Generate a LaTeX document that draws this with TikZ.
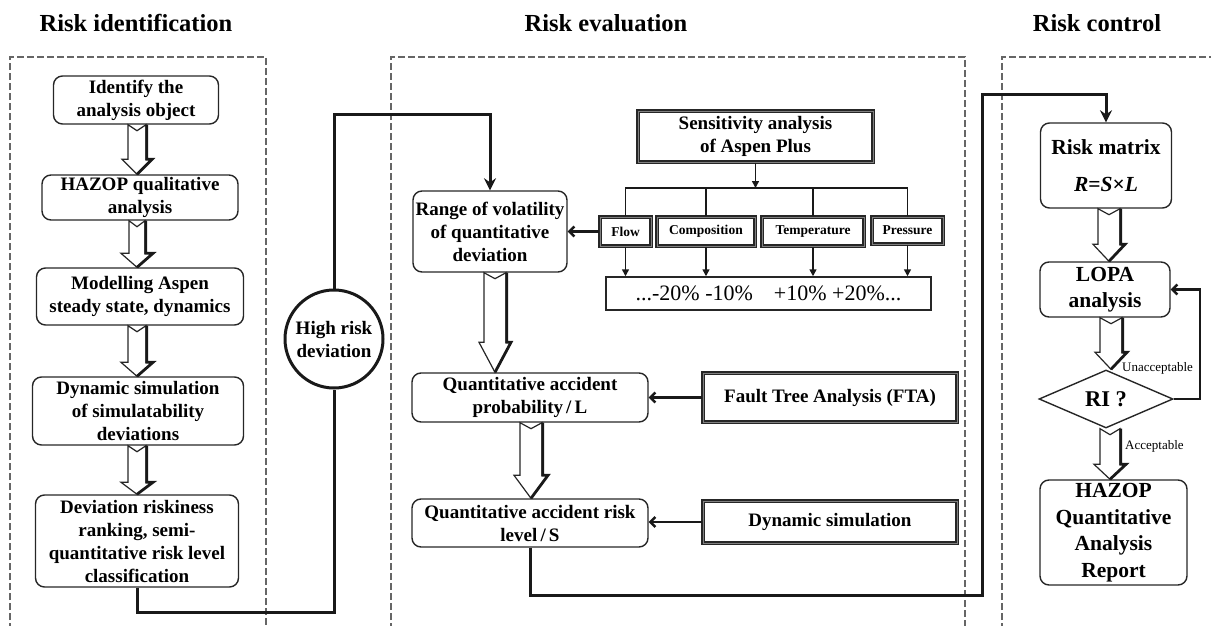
\documentclass[tikz,border=0pt]{standalone}
\usepackage{fontspec}
\setmainfont{Liberation Serif}
\usetikzlibrary{arrows.meta,shapes.geometric,calc}
\newcommand\blockarr[5]{%
  \draw[blkline] let \p1=(#1), \p2=(#2) in
    (\x1-#3,\y1) -- (\x1,\y1-6pt) -- (\x1+#3,\y1) -- (\x1+#3,\y2+#5) -- (\x1+#4,\y2+#5)
    -- (\x1,\y2) -- (\x1-#4,\y2+#5) -- (\x1-#3,\y2+#5) -- cycle;
  \draw[blkshade] let \p1=(#1), \p2=(#2) in
    (\x1+#3+0.8pt,\y1) -- (\x1+#3+0.8pt,\y2+#5) -- (\x1+#4,\y2+#5) -- (\x1,\y2);
}
\begin{document}
\begin{tikzpicture}[x=1pt,y=-1pt,
  panel/.style={draw=black!60, line width=2pt, dash pattern=on 7pt off 3pt},
  title/.style={font=\fontsize{24.5}{28}\selectfont\bfseries, anchor=base, inner sep=0pt},
  rbox/.style={draw=black!85, line width=1.4pt, rounded corners=9pt, align=center, inner sep=0pt, font=\fontsize{19}{23}\selectfont\bfseries},
  dbox/.style={draw=black!85, line width=1.1pt, double=black!50, double distance=0.9pt, align=center, inner sep=0pt, font=\fontsize{19}{23}\selectfont\bfseries},
  pbox/.style={dbox, font=\fontsize{13.5}{16}\selectfont\bfseries},
  rcbox/.style={rbox, font=\fontsize{21.5}{26.5}\selectfont\bfseries},
  sz/.style 2 args={minimum width=#1pt, minimum height=#2pt},
  heavy/.style={draw=black!90, line width=3pt},
  heavyarrow/.style={heavy, -{Stealth[length=12pt,width=12pt,inset=4pt]}},
  midarrow/.style={draw=black!90, line width=2.4pt, -{Straight Barb[length=5pt,width=10pt]}},
  tree/.style={draw=black!90, line width=1.5pt},
  treearrow/.style={tree, -{Triangle[length=7pt,width=7pt]}},
  blkline/.style={draw=black!85, line width=1.2pt, line join=miter},
  blkshade/.style={draw=black!90, line width=2.8pt, line join=miter},
  lbl/.style={anchor=west, inner sep=0pt, font=\fontsize{13}{15}\selectfont},
]
\useasboundingbox (0,0) rectangle (1211,626);

% titles
\node[title] (t-id) at (136,32) {Risk identification};
\node[title] (t-ev) at (606,32) {Risk evaluation};
\node[title] (t-co) at (1097,32) {Risk control};

% panels
\draw[panel] (10,630) -- (10,57) -- (266,57) -- (266,630);
\draw[panel] (391,630) -- (391,57) -- (965,57) -- (965,630);
\draw[panel] (1002,630) -- (1002,57) -- (1215,57);

% left column
\node[rbox, sz={165}{48}] (id1) at (136,100) {Identify the\\analysis object};
\node[rbox, sz={196}{45}] (hz) at (140,197.5) {HAZOP qualitative\\analysis};
\node[rbox, sz={207}{57}] (mod) at (140,296.5) {Modelling Aspen\\steady state, dynamics};
\node[rbox, sz={211}{68}] (dyn) at (138,411) {Dynamic simulation\\of simulatability\\deviations};
\node[rbox, sz={203}{92}] (rank) at (137,541) {Deviation riskiness\\ranking, semi-\\quantitative risk level\\classification};

\node[circle, draw=black!90, line width=3pt, minimum size=98pt, inner sep=0pt, align=center,
      font=\fontsize{19}{23}\selectfont\bfseries] (hr) at (334,339) {High risk\\deviation};

% middle column
\node[rbox, sz={154}{81}] (rng) at (490,231.5) {Range of volatility\\of quantitative\\deviation};
\node[dbox, sz={235}{51}] (sens) at (755.5,136.5) {Sensitivity analysis\\of Aspen Plus};
\node[pbox, sz={51}{29}] (flow) at (625.5,231.5) {Flow};
\node[pbox, sz={98}{29}] (comp) at (706,231.5) {Composition};
\node[pbox, sz={102}{29}] (temp) at (813,231.5) {Temperature};
\node[pbox, sz={71}{27}] (pres) at (907.5,230.5) {Pressure};
\node[draw=black!85, line width=1.5pt, sz={325}{33}, inner sep=0pt,
      font=\fontsize{22}{26}\selectfont] (pct) at (768.5,293.5) {...-20\% -10\%\hspace{21pt}+10\% +20\%...};
\node[rbox, sz={236}{49}] (qap) at (530,397.5) {Quantitative accident\\probability\,/\,L};
\node[dbox, sz={254}{49}] (fta) at (830,397.5) {Fault Tree Analysis (FTA)};
\node[rbox, sz={236}{48}] (qar) at (530,523) {Quantitative accident risk\\level\,/\,S};
\node[dbox, sz={254}{42}] (ds) at (830,522) {Dynamic simulation};

% right column
\node[rcbox, sz={131}{85}] (rm) at (1106,165.5) {Risk matrix\\[11pt]\textit{R}=\textit{S}×\textit{L}};
\node[rcbox, sz={130}{55}] (lopa) at (1105,289.5) {LOPA\\analysis};
\node[diamond, aspect=2.3, draw=black!85, line width=1.4pt, sz={134}{58}, inner sep=0pt,
      font=\fontsize{22.5}{26}\selectfont\bfseries] (ri) at (1106,399) {RI ?};
\node[rcbox, sz={147}{105}] (rep) at (1113.5,532.5) {HAZOP\\Quantitative\\Analysis\\Report};
\node[lbl] (unacc) at (1122,368) {Unacceptable};
\node[lbl] (acc) at (1125,446) {Acceptable};

% heavy connectors
\coordinate (b1) at (0,612);
\draw[heavy] (rank.south) -- (rank.south |- b1) -- (hr.south |- b1) -- (hr.south);
\coordinate (t1) at (0,114);
\draw[heavyarrow] (hr.north) -- (hr.north |- t1) -- (rng.north |- t1) -- (rng.north);
\coordinate (c2) at (982,595);
\coordinate (c3) at (982,95);
\draw[heavyarrow] (qar.south) -- (qar.south |- c2) -- (c2) -- (c3) -- (rm.north |- c3) -- (rm.north);

% sensitivity tree
\coordinate (bus) at (0,188);
\draw[treearrow] (sens.south) -- (sens.south |- bus);
\draw[tree] (flow.north) -- (flow.north |- bus) -- (pres.north |- bus) -- (pres.north);
\draw[tree] (comp.north) -- (comp.north |- bus);
\draw[tree] (temp.north) -- (temp.north |- bus);
\foreach \n in {flow,comp,temp,pres} \draw[treearrow] (\n.south) -- (\n.south |- pct.north);

% side arrows
\draw[midarrow] (flow.west) -- (rng.east);
\draw[midarrow] (fta.west) -- (qap.east);
\draw[midarrow] (ds.west) -- (ds.west -| qar.east);
\coordinate (l1) at (1200,0);
\draw[midarrow] (ri.east) -- (ri.east -| l1) -- (lopa.east -| l1) -- (lopa.east);

% hollow block arrows
\blockarr{[xshift=1pt]id1.south}{hz.north}{9pt}{15pt}{15pt}
\blockarr{[xshift=-3pt]hz.south}{mod.north}{8pt}{16pt}{14pt}
\blockarr{[xshift=-3pt]mod.south}{dyn.north}{9pt}{16pt}{14pt}
\blockarr{[xshift=-1pt]dyn.south}{rank.north}{9pt}{16pt}{12pt}
\blockarr{[xshift=5pt]rng.south}{qap.north}{11pt}{16pt}{30pt}
\blockarr{[xshift=1pt]qap.south}{qar.north}{11pt}{17pt}{23pt}
\blockarr{[xshift=3pt]rm.south}{lopa.north}{11pt}{16pt}{17pt}
\blockarr{[xshift=6pt]lopa.south}{ri.north}{11pt}{16pt}{17pt}
\blockarr{[xshift=4pt]ri.south}{rep.north}{10pt}{16pt}{15pt}
\end{tikzpicture}
\end{document}
